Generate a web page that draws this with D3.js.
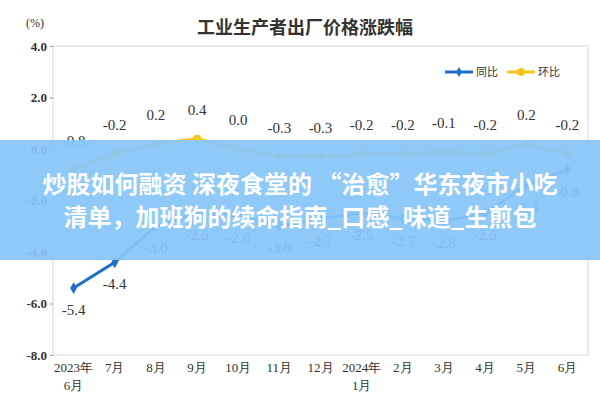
<!DOCTYPE html>
<html><head><meta charset="utf-8">
<script src="https://cdn.jsdelivr.net/npm/d3@7"></script>
<style>body{margin:0;background:#fff}</style>
</head><body><div id="chart"></div>
<script>
const months = ['2023年\n6月','7月','8月','9月','10月','11月','12月','2024年\n1月','2月','3月','4月','5月','6月'];
const yoy = [-5.4,-4.4,-3.0,-2.5,-2.6,-3.0,-2.7,-2.5,-2.7,-2.8,-2.5,-1.4,-0.8];
const mom = [-0.8,-0.2,0.2,0.4,0.0,-0.3,-0.3,-0.2,-0.2,-0.1,-0.2,0.2,-0.2];
const yTicks = [4,2,0,-2,-4,-6,-8];

const W = 600, H = 400;
const mLeft = 53, mRight = 588, mTop = 46, mBottom = 355;
const serif = "'Liberation Serif','DejaVu Serif',serif";
const cjk = "'Noto Sans CJK SC',sans-serif";

let svg = d3.select('#chart').append('svg').attr('width', W).attr('height', H);

const x = d3.scaleBand().domain(months).range([mLeft, mRight]);
const y = d3.scaleLinear().domain([-8, 4]).range([mBottom, mTop]);
const cx = i => x(months[i]) + x.bandwidth() / 2;

// frame
svg.append('rect').attr('x', mLeft).attr('y', mTop).attr('width', mRight - mLeft).attr('height', mBottom - mTop)
    .attr('fill', 'none').attr('stroke', '#cfd6de');
svg.append('line').attr('x1', mLeft).attr('x2', mRight).attr('y1', y(0)).attr('y2', y(0)).attr('stroke', '#cfd6de');

// y axis
const yAxis = svg.append('g').attr('transform', `translate(${mLeft},0)`)
    .call(d3.axisLeft(y).tickValues(yTicks).tickFormat(d => d3.format('.1f')(d).replace('−', '-')).tickSize(3));
yAxis.select('.domain').remove();
yAxis.selectAll('text').attr('font-family', serif).attr('font-size', 13).attr('font-weight', 'bold').attr('fill', '#333');
yAxis.selectAll('line').attr('stroke', '#999');

// x labels
svg.append('g').selectAll('text').data(months).join('text')
    .attr('text-anchor', 'middle').attr('font-family', serif).attr('font-size', 13).attr('fill', '#333')
    .each(function (d, i) {
        d.split('\n').forEach((s, k) => d3.select(this).append('tspan')
            .attr('x', cx(i)).attr('y', 372 + k * 18).text(s));
    });

svg.append('text').attr('x', 26).attr('y', 27).attr('font-family', serif).attr('font-size', 12).attr('fill', '#333').text('(%)');
svg.append('text').attr('x', 305).attr('y', 34).attr('text-anchor', 'middle').attr('font-family', cjk)
    .attr('font-size', 18).attr('font-weight', 'bold').attr('fill', '#333').text('工业生产者出厂价格涨跌幅');

// lines
const line = d3.line().x((d, i) => cx(i)).y(d => y(d));
svg.append('path').datum(mom).attr('d', line).attr('fill', 'none').attr('stroke', '#f5c518').attr('stroke-width', 3);
svg.append('g').selectAll('circle').data(mom).join('circle').attr('cx', (d, i) => cx(i)).attr('cy', d => y(d)).attr('r', 4).attr('fill', '#f5c518');
svg.append('path').datum(yoy).attr('d', line).attr('fill', 'none').attr('stroke', '#1f6fc5').attr('stroke-width', 3);
svg.append('g').selectAll('path').data(yoy).join('path')
    .attr('transform', (d, i) => `translate(${cx(i)},${y(d)})`).attr('d', d3.symbol(d3.symbolDiamond, 40)).attr('fill', '#1f6fc5');

// value labels
function addLabels(data, dy) {
    svg.append('g').selectAll('text').data(data).join('text')
        .attr('x', (d, i) => cx(i)).attr('y', d => y(d) + dy)
        .attr('font-family', serif).attr('font-size', 15).attr('fill', '#333').attr('text-anchor', 'middle')
        .text(d => d3.format('.1f')(d).replace('−', '-'));
}
addLabels(mom, -24);
addLabels(yoy, 27);

// legend
const lg = svg.append('g').attr('transform', 'translate(445,72)');
lg.append('line').attr('x1', 0).attr('x2', 28).attr('stroke', '#1f6fc5').attr('stroke-width', 3);
lg.append('path').attr('transform', 'translate(14,0)').attr('d', d3.symbol(d3.symbolDiamond, 30)).attr('fill', '#1f6fc5');
lg.append('text').attr('x', 31).attr('y', 4).attr('font-family', cjk).attr('font-size', 11).attr('fill', '#333').text('同比');
lg.append('line').attr('x1', 62).attr('x2', 90).attr('stroke', '#f5c518').attr('stroke-width', 3);
lg.append('circle').attr('cx', 76).attr('r', 4).attr('fill', '#f5c518');
lg.append('text').attr('x', 93).attr('y', 4).attr('font-family', cjk).attr('font-size', 11).attr('fill', '#333').text('环比');

// overlay banner
svg.append('rect').attr('x', 0).attr('y', 140).attr('width', W).attr('height', 120).attr('fill', '#86c5f7').attr('opacity', 0.93);
['炒股如何融资 深夜食堂的 “治愈”华东夜市小吃', '清单，加班狗的续命指南_口感_味道_生煎包'].forEach((s, k) => {
    svg.append('text').attr('x', 300).attr('y', 193 + k * 33).attr('text-anchor', 'middle').attr('font-family', cjk)
        .attr('font-size', 24).attr('font-weight', 'bold').attr('fill', '#fff').text(s);
});
</script></body></html>
